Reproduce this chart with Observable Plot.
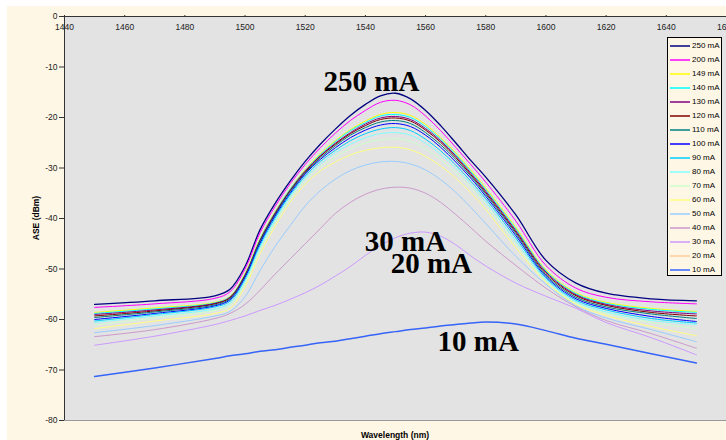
<!DOCTYPE html>
<html>
<head>
<meta charset="utf-8">
<script src="https://cdn.jsdelivr.net/npm/d3@7"></script>
<script src="https://cdn.jsdelivr.net/npm/@observablehq/plot@0.6"></script>
<style>
  html, body { margin: 0; padding: 0; background: #ffffff; }
  body { width: 726px; height: 440px; overflow: hidden; position: relative; font-family: "Liberation Sans", Arial, sans-serif; }
  #bg { position: absolute; left: 7px; top: 6px; width: 760px; height: 440px; background: #FFF7E5; }
  #chart { position: absolute; left: 0; top: 0; width: 760px; height: 440px; }
  #chart svg { max-width: none !important; width: 760px; height: 440px; }
  #legend { position: absolute; left: 667px; top: 37px; width: 55px; height: 239px; border: 1px solid #000; background: #FFF7E5; box-sizing: border-box; }
  .lg { position: absolute; left: 0; height: 14px; width: 55px; font-size: 8px; color: #000; }
  .lg svg { position: absolute; left: 1px; top: 0; }
  .lg span { position: absolute; left: 24px; top: 2px; line-height: 10px; white-space: nowrap; }
  .axt { position: absolute; font-weight: bold; font-size: 8.5px; color: #000; white-space: nowrap; }
</style>
</head>
<body>
<div id="bg"></div>
<div id="chart"></div>
<div id="legend"></div>
<div class="axt" id="xt" style="left:395px; top:435px; transform: translate(-50%,-50%);">Wavelength (nm)</div>
<div class="axt" id="yt" style="left:35.5px; top:218px; transform: translate(-50%,-50%) rotate(-90deg);">ASE (dBm)</div>
<script>
// wavelength grid (nm)
const wl = [1450,1470,1490,1495,1500,1505,1510,1515,1520,1525,1530,1535,1540,1545,1550,1555,1560,1565,1570,1575,1580,1590,1600,1610,1620,1635,1650];

// ASE (dBm) per drive current
const s250 = [-57.0,-56.3,-55.3,-54.0,-49.5,-42.2,-37.0,-32.6,-28.7,-25.3,-22.3,-19.6,-17.4,-15.7,-15.2,-16.3,-18.6,-21.6,-25.0,-28.5,-31.8,-39.3,-48.3,-52.8,-54.8,-55.9,-56.3];
const s200 = [-57.6,-56.9,-55.8,-54.5,-50.0,-42.8,-37.6,-33.1,-29.3,-26.0,-23.1,-20.6,-18.6,-17.0,-16.6,-17.5,-19.7,-22.6,-25.9,-29.3,-32.8,-40.5,-49.3,-53.8,-55.6,-56.5,-56.9];
const s149 = [-58.6,-57.7,-56.6,-55.4,-50.9,-43.9,-38.6,-34.1,-30.3,-27.2,-24.6,-22.4,-20.7,-19.4,-19.0,-19.6,-21.4,-24.0,-27.0,-30.4,-34.0,-41.8,-50.2,-54.7,-56.6,-57.8,-58.4];
const s140 = [-58.8,-57.9,-56.7,-55.5,-51.1,-44.1,-38.8,-34.2,-30.5,-27.4,-24.8,-22.6,-21.0,-19.7,-19.4,-20.0,-21.8,-24.3,-27.3,-30.7,-34.3,-42.1,-50.4,-54.9,-56.8,-58.0,-58.6];
const s130 = [-59.0,-58.1,-56.8,-55.6,-51.2,-44.3,-38.9,-34.4,-30.6,-27.6,-25.1,-23.0,-21.3,-20.1,-19.8,-20.4,-22.2,-24.6,-27.6,-31.0,-34.6,-42.4,-50.6,-55.1,-57.0,-58.3,-58.9];
const s120 = [-59.3,-58.3,-56.9,-55.7,-51.3,-44.4,-39.1,-34.5,-30.8,-27.7,-25.3,-23.2,-21.6,-20.4,-20.1,-20.7,-22.5,-24.9,-27.9,-31.3,-34.9,-42.7,-50.9,-55.3,-57.2,-58.6,-59.3];
const s110 = [-59.6,-58.5,-57.1,-55.9,-51.5,-44.6,-39.3,-34.7,-31.0,-28.0,-25.6,-23.5,-22.0,-20.9,-20.6,-21.2,-23.0,-25.4,-28.3,-31.6,-35.2,-43.0,-51.2,-55.6,-57.5,-58.9,-59.8];
const s100 = [-60.0,-58.8,-57.3,-56.1,-51.7,-44.9,-39.5,-35.0,-31.2,-28.3,-26.0,-24.0,-22.5,-21.5,-21.2,-21.8,-23.5,-25.9,-28.8,-32.0,-35.6,-43.4,-51.5,-55.9,-57.8,-59.4,-60.4];
const s90  = [-60.3,-59.0,-57.5,-56.4,-52.1,-45.3,-39.9,-35.3,-31.6,-28.7,-26.5,-24.6,-23.2,-22.3,-22.0,-22.6,-24.3,-26.6,-29.4,-32.6,-36.1,-43.9,-51.8,-56.2,-58.1,-59.8,-60.7];
const s80  = [-60.6,-59.3,-57.9,-56.8,-52.4,-45.7,-40.3,-35.7,-32.0,-29.2,-27.0,-25.3,-24.0,-23.2,-23.0,-23.5,-25.1,-27.3,-30.0,-33.2,-36.7,-44.5,-52.1,-56.5,-58.5,-60.2,-61.0];
const s70  = [-61.1,-59.7,-58.2,-57.2,-52.9,-46.2,-40.8,-36.1,-32.5,-29.8,-27.8,-26.2,-25.0,-24.4,-24.2,-24.7,-26.2,-28.3,-30.9,-33.9,-37.3,-45.1,-52.4,-56.8,-58.8,-60.6,-61.8];
const s60  = [-61.8,-60.3,-58.8,-57.8,-53.5,-47.0,-41.5,-36.8,-33.2,-30.6,-28.8,-27.4,-26.5,-26.0,-25.9,-26.4,-27.7,-29.6,-32.0,-34.9,-38.2,-45.8,-52.6,-57.0,-59.2,-61.4,-63.2];
const s50  = [-62.6,-61.2,-59.3,-58.4,-55.5,-50.3,-45.5,-41.4,-37.5,-34.5,-32.2,-30.5,-29.4,-28.8,-28.7,-29.2,-30.4,-32.3,-34.8,-37.8,-41.0,-47.5,-53.0,-57.3,-59.7,-62.0,-64.4];
const s40  = [-63.4,-62.0,-59.8,-58.8,-57.0,-54.2,-51.0,-48.0,-45.0,-42.0,-39.0,-36.8,-35.2,-34.2,-33.8,-34.0,-35.0,-36.8,-39.2,-41.8,-44.5,-49.3,-53.8,-57.5,-60.2,-62.8,-65.7];
const s30  = [-65.1,-63.3,-61.0,-60.2,-59.3,-58.2,-57.2,-56.0,-54.7,-53.2,-51.4,-49.5,-47.3,-45.3,-43.8,-42.9,-42.7,-43.5,-45.2,-47.4,-49.4,-52.8,-55.4,-57.8,-60.6,-63.6,-67.0];
const s20  = [-71.3,-69.6,-67.7,-67.2,-66.8,-66.3,-66.0,-65.5,-65.1,-64.6,-64.3,-63.8,-63.3,-62.8,-62.4,-62.0,-61.7,-61.3,-61.0,-60.7,-60.5,-60.9,-62.2,-63.7,-64.9,-66.8,-68.6];
const s10  = [-71.3,-69.6,-67.7,-67.2,-66.8,-66.3,-66.0,-65.5,-65.1,-64.6,-64.3,-63.8,-63.3,-62.8,-62.4,-62.0,-61.7,-61.3,-61.0,-60.7,-60.5,-60.9,-62.2,-63.7,-64.9,-66.8,-68.6];

const seriesNames = ["250 mA","200 mA","149 mA","140 mA","130 mA","120 mA","110 mA","100 mA","90 mA","80 mA","70 mA","60 mA","50 mA","40 mA","30 mA","20 mA","10 mA"];
const seriesValues = [s250,s200,s149,s140,s130,s120,s110,s100,s90,s80,s70,s60,s50,s40,s30,s20,s10];
const seriesColors = ["#000080","#FF00FF","#FFFF00","#00FFFF","#800080","#800000","#008080","#0000FF","#00CCFF","#80FFFF","#CCFFCC","#FFFF80","#99CCFF","#CC99CC","#CC99FF","#FFCC99","#3366FF"];

const xTicks = [1440,1460,1480,1500,1520,1540,1560,1580,1600,1620,1640,1660];
const yTicks = [0,-10,-20,-30,-40,-50,-60,-70,-80];

const annotLabels = ["250 mA","30 mA","20 mA","10 mA"];
const annotX = [1542,1553.3,1561.9,1577.5];
const annotY = [-12.9,-44.6,-49.0,-64.4];

const rows = [];
seriesNames.forEach((name, i) => {
  seriesValues[i].forEach((v, j) => rows.push({series: name, wl: wl[j], ase: v}));
});
const annots = annotLabels.map((t, i) => ({t, x: annotX[i], y: annotY[i]}));

const lineMarks = seriesNames.map((name, i) =>
  Plot.line(rows.filter(r => r.series === name), {
    x: "wl", y: "ase", stroke: seriesColors[i],
    strokeWidth: name === "10 mA" ? 1.5 : (name === "250 mA" ? 1.3 : 1),
    curve: "catmull-rom"
  })
);

const chart = Plot.plot({
  width: 760,
  height: 440,
  marginLeft: 64,
  marginRight: 34,
  marginTop: 16,
  marginBottom: 20,
  style: {background: "transparent", fontFamily: "'Liberation Sans', Arial, sans-serif", color: "#222", maxWidth: "none"},
  x: {domain: [1440, 1660]},
  y: {domain: [-80, 0]},
  marks: [
    Plot.frame({fill: "#E3E3E3", stroke: null}),
    Plot.ruleY([-80], {stroke: "#9a9a9a", strokeWidth: 1}),
    ...lineMarks,
    Plot.ruleY([0], {stroke: "#333", strokeWidth: 1}),
    Plot.ruleX([1440], {stroke: "#333", strokeWidth: 1}),
    Plot.axisX({anchor: "top", ticks: xTicks, tickSize: 2, tickFormat: () => "", label: null, stroke: "#333"}),
    Plot.text(xTicks, {x: d => d, y: 0, dy: 11, text: d => String(d), fontSize: 8.5, fill: "#222"}),
    Plot.axisY({anchor: "left", ticks: yTicks, tickSize: 5, tickPadding: 2, tickFormat: d => String(d), label: null, fontSize: 8.5, stroke: "#333"}),
    Plot.text(annots, {x: "x", y: "y", text: "t", fontSize: 29, fontWeight: "bold", fontFamily: "'Liberation Serif', 'Times New Roman', serif", fill: "#000"})
  ]
});
chart.style.maxWidth = "none";
document.getElementById("chart").appendChild(chart);

// legend
const lg = document.getElementById("legend");
seriesNames.forEach((name, i) => {
  const row = document.createElement("div");
  row.className = "lg";
  row.style.top = (1 + i * 14) + "px";
  row.innerHTML = `<svg width="22" height="14"><line x1="1" x2="21" y1="7" y2="7" stroke="${seriesColors[i]}" stroke-width="1.5"/></svg><span>${name}</span>`;
  lg.appendChild(row);
});
</script>
</body>
</html>
